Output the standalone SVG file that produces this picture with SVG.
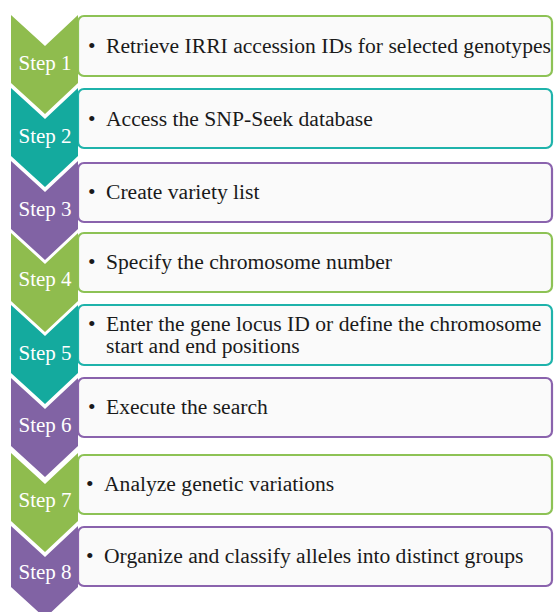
<svg xmlns="http://www.w3.org/2000/svg" width="554" height="612" viewBox="0 0 554 612">
<style>
.box{fill:#fafafa;stroke-width:2.2}
.g .box{stroke:#8dc255}.t .box{stroke:#1fb3ab}.p .box{stroke:#8a63ad}
.g .chev{fill:#8fbc4e}.t .chev{fill:#14aa9e}.p .chev{fill:#8163a4}
.lbl{font-family:"Liberation Serif","Times New Roman",serif;font-size:21px;fill:#ffffff;text-anchor:middle}
.txt{font-family:"Liberation Serif","Times New Roman",serif;font-size:21.6px;fill:#1a1a1a}
</style>
<rect width="554" height="612" fill="#ffffff"/>
<g id="step1" class="g">
<rect class="box" x="78" y="16" width="474" height="60" rx="6"/>
<path class="chev" d="M11,15 L45,46 L78,15 L78,83 L45,114 L11,83 Z"/>
<text class="lbl" x="45" y="70">Step 1</text>
<text class="txt" y="53"><tspan x="88">•</tspan><tspan x="106">Retrieve IRRI accession IDs for selected genotypes</tspan></text>
</g>
<g id="step2" class="t">
<rect class="box" x="78" y="89" width="474" height="59" rx="6"/>
<path class="chev" d="M11,88 L45,119 L78,88 L78,156 L45,187 L11,156 Z"/>
<text class="lbl" x="45" y="143">Step 2</text>
<text class="txt" y="126"><tspan x="88">•</tspan><tspan x="106">Access the SNP-Seek database</tspan></text>
</g>
<g id="step3" class="p">
<rect class="box" x="78" y="163" width="474" height="59" rx="6"/>
<path class="chev" d="M11,161 L45,192 L78,161 L78,229 L45,260 L11,229 Z"/>
<text class="lbl" x="45" y="216">Step 3</text>
<text class="txt" y="199"><tspan x="88">•</tspan><tspan x="106">Create variety list</tspan></text>
</g>
<g id="step4" class="g">
<rect class="box" x="78" y="233" width="474" height="59" rx="6"/>
<path class="chev" d="M11,233 L45,264 L78,233 L78,301 L45,332 L11,301 Z"/>
<text class="lbl" x="45" y="286">Step 4</text>
<text class="txt" y="269"><tspan x="88">•</tspan><tspan x="106">Specify the chromosome number</tspan></text>
</g>
<g id="step5" class="t">
<rect class="box" x="78" y="305" width="474" height="60" rx="6"/>
<path class="chev" d="M11,305 L45,336 L78,305 L78,373 L45,404 L11,373 Z"/>
<text class="lbl" x="45" y="360">Step 5</text>
<text class="txt" y="331"><tspan x="88">•</tspan><tspan x="106">Enter the gene locus ID or define the chromosome</tspan></text>
<text class="txt" x="106" y="353">start and end positions</text>
</g>
<g id="step6" class="p">
<rect class="box" x="78" y="378" width="474" height="59" rx="6"/>
<path class="chev" d="M11,378 L45,409 L78,378 L78,446 L45,477 L11,446 Z"/>
<text class="lbl" x="45" y="432">Step 6</text>
<text class="txt" y="414"><tspan x="88">•</tspan><tspan x="106">Execute the search</tspan></text>
</g>
<g id="step7" class="g">
<rect class="box" x="78" y="455" width="474" height="59" rx="6"/>
<path class="chev" d="M11,453 L45,484 L78,453 L78,521 L45,552 L11,521 Z"/>
<text class="lbl" x="45" y="507">Step 7</text>
<text class="txt" y="491"><tspan x="86">•</tspan><tspan x="104">Analyze genetic variations</tspan></text>
</g>
<g id="step8" class="p">
<rect class="box" x="78" y="527" width="474" height="59" rx="6"/>
<path class="chev" d="M11,526 L45,557 L78,526 L78,587 L45,618 L11,587 Z"/>
<text class="lbl" x="45" y="579">Step 8</text>
<text class="txt" y="563"><tspan x="86">•</tspan><tspan x="104">Organize and classify alleles into distinct groups</tspan></text>
</g>
<g id="connectors"/>
</svg>
